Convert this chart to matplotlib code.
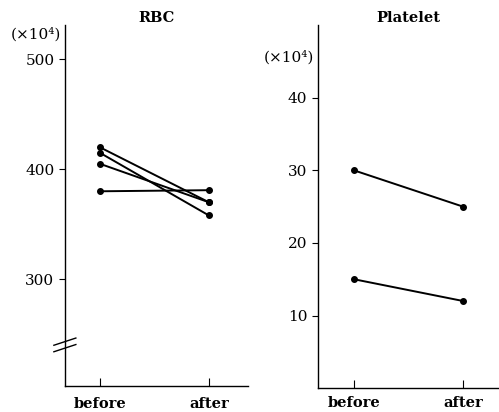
import matplotlib.pyplot as plt

plt.rcParams['font.family'] = ['DejaVu Serif']

groups = ["before", "after"]

# RBC (x10^4), one list per subject: [before, after]
rbc_before = [420, 415, 405, 380]
rbc_after = [370, 358, 370, 381]

# Platelet (x10^4)
plt_before = [30, 15]
plt_after = [25, 12]

rbc_ticks = [300, 400, 500]
plt_ticks = [10, 20, 30, 40]

fig = plt.figure(figsize=(4.99, 4.12), dpi=100)
ax1 = fig.add_axes([0.130, 0.063, 0.367, 0.876])
ax2 = fig.add_axes([0.637, 0.058, 0.363, 0.881])

xs = [0, 1]
for b, a in zip(rbc_before, rbc_after):
    ax1.plot(xs, [b, a], color="black", lw=1.4, marker="o", ms=4)
for b, a in zip(plt_before, plt_after):
    ax2.plot(xs, [b, a], color="black", lw=1.4, marker="o", ms=4)

ax1.set_ylim(203, 531)
ax1.set_xlim(-0.321, 1.358)
ax2.set_ylim(0, 50)
ax2.set_xlim(-0.330, 1.33)

for ax, ticks, xpad in [(ax1, rbc_ticks, 8), (ax2, plt_ticks, 6)]:
    for s in ["top", "right"]:
        ax.spines[s].set_visible(False)
    ax.spines["left"].set_linewidth(1.0)
    ax.spines["bottom"].set_linewidth(1.0)
    ax.set_yticks(ticks)
    ax.set_xticks(xs)
    ax.set_xticklabels(groups, fontweight="bold", fontsize=10.5)
    ax.tick_params(axis="x", direction="in", length=6, pad=xpad)
    ax.tick_params(axis="y", direction="out", length=4, labelsize=11)

ax1.set_title("RBC", fontsize=10.5, fontweight="bold", pad=-1)
ax2.set_title("Platelet", fontsize=10.5, fontweight="bold", pad=-1)

ax1.text(-0.02, 0.975, "(×10⁴)", transform=ax1.transAxes, ha="right",
         va="center", fontsize=11)
ax2.text(-0.02, 0.91, "(×10⁴)", transform=ax2.transAxes, ha="right",
         va="center", fontsize=11)

# axis break marks
for dy in (0, 0.018):
    ax1.plot([-0.06, 0.06], [0.095 + dy, 0.115 + dy], transform=ax1.transAxes,
             color="black", lw=1.0, clip_on=False)

fig.savefig("out.png", dpi=100)
